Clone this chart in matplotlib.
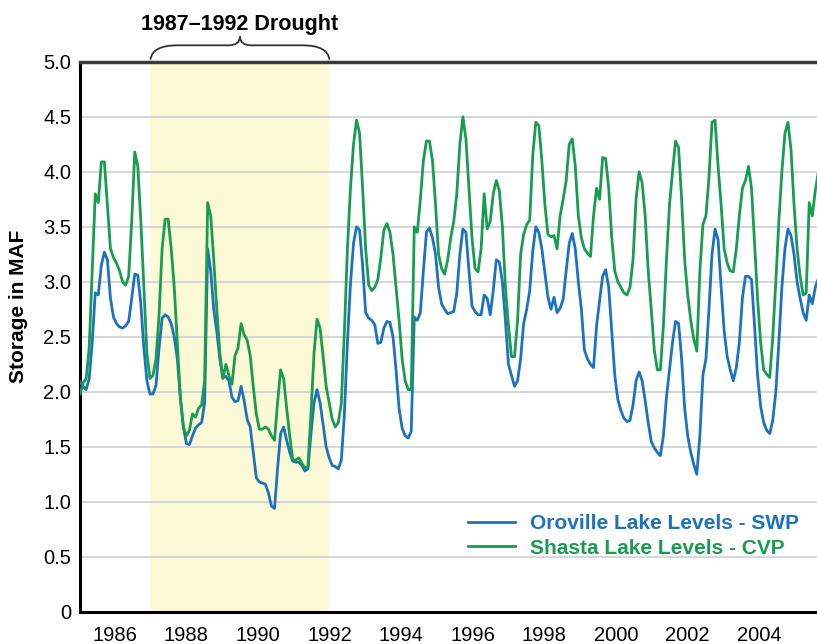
import matplotlib
matplotlib.use("Agg")
import matplotlib.pyplot as plt
from matplotlib.path import Path
from matplotlib.patches import PathPatch
import numpy as np

plt.rcParams['font.family'] = ['Liberation Sans', 'DejaVu Sans']

# Storage (MAF), sampled about every 31 days, starting early 1985
start_year = 1985.034
step_years = 31 / 365.25
oroville = [
    2.09, 2.05, 2.02, 2.12, 2.45, 2.9, 2.88, 3.15, 3.27, 3.2, 2.85, 2.68, 2.62, 2.59, 2.58, 2.6, 2.64, 2.85, 3.07, 3.06,
    2.8, 2.4, 2.1, 1.98, 1.98, 2.06, 2.4, 2.67, 2.7, 2.68, 2.62, 2.5, 2.3, 1.95, 1.68, 1.53, 1.52, 1.6, 1.67, 1.7,
    1.72, 1.9,
    3.3, 3.1, 2.75, 2.55, 2.3, 2.13, 2.14, 2.1, 1.95, 1.91, 1.92, 2.05, 1.92, 1.75, 1.68, 1.45, 1.22, 1.18, 1.17, 1.16,
    1.08, 0.96, 0.94, 1.3, 1.62, 1.68, 1.56, 1.45, 1.37, 1.36, 1.36, 1.33, 1.28, 1.3, 1.62, 1.9, 2.02, 1.9, 1.7, 1.5,
    1.4, 1.33,
    1.32, 1.3, 1.38, 1.8, 2.45, 2.98, 3.35, 3.5, 3.47, 3.15, 2.72, 2.67, 2.65, 2.61, 2.44, 2.45, 2.58, 2.64, 2.63, 2.5,
    2.2, 1.85, 1.67, 1.6, 1.58, 1.64, 2.68, 2.65, 2.72, 3.1, 3.45, 3.49, 3.4, 3.25, 2.95, 2.8, 2.75, 2.71, 2.72, 2.73,
    2.9,
    3.25, 3.48, 3.45, 3.1, 2.78, 2.73, 2.7, 2.7, 2.88, 2.85, 2.7, 2.92, 3.2, 3.18, 3.0, 2.65, 2.25, 2.15, 2.05, 2.1,
    2.3, 2.62, 2.75, 2.92, 3.28, 3.5, 3.45, 3.3, 3.08, 2.86, 2.75, 2.86, 2.72, 2.76, 2.84, 3.1, 3.35, 3.44, 3.3, 3.0,
    2.75,
    2.38, 2.3, 2.25, 2.22, 2.6, 2.83, 3.05, 3.11, 2.95, 2.55, 2.15, 1.93, 1.83, 1.76, 1.73, 1.74, 1.88, 2.1, 2.18, 2.1,
    1.92, 1.72, 1.55, 1.49, 1.45, 1.42, 1.6, 1.95, 2.2, 2.45, 2.64, 2.62, 2.3, 1.85, 1.6, 1.45, 1.34, 1.25, 1.6,
    2.15, 2.3, 2.75, 3.25, 3.48, 3.38, 2.95, 2.55, 2.32, 2.2, 2.1, 2.22, 2.45, 2.85, 3.05, 3.05, 3.02, 2.6, 2.15, 1.87,
    1.72, 1.65, 1.62, 1.74, 2.0, 2.45, 2.95, 3.3, 3.48, 3.42, 3.25, 3.0, 2.85, 2.72, 2.65, 2.88, 2.8, 2.95, 3.03,
]
shasta = [
    1.98, 2.08, 2.12, 2.4, 3.1, 3.8, 3.72, 4.09, 4.09, 3.7, 3.3, 3.22, 3.17, 3.1, 3.0, 2.97, 3.05, 3.55, 4.18, 4.05,
    3.55, 2.95, 2.35, 2.12, 2.15, 2.3, 2.7, 3.3, 3.57, 3.57, 3.3, 2.95, 2.45, 1.95, 1.68, 1.6, 1.65, 1.8, 1.77, 1.85,
    1.88, 2.1,
    3.72, 3.6, 3.2, 2.75, 2.35, 2.12, 2.25, 2.15, 2.07, 2.33, 2.4, 2.62, 2.52, 2.47, 2.33, 2.05, 1.8, 1.66, 1.66, 1.68,
    1.66, 1.6, 1.56, 1.9, 2.2, 2.12, 1.85, 1.6, 1.38, 1.38, 1.4, 1.35, 1.31, 1.32, 1.8, 2.35, 2.66, 2.58, 2.32, 2.05,
    1.9, 1.75,
    1.68, 1.72, 1.9, 2.55, 3.3, 3.85, 4.25, 4.47, 4.35, 3.85, 3.3, 2.97, 2.92, 2.95, 3.02, 3.22, 3.47, 3.53, 3.45, 3.25,
    2.95, 2.65, 2.3, 2.1, 2.02, 2.02, 3.5, 3.45, 3.75, 4.1, 4.28, 4.28, 4.1, 3.7, 3.25, 3.12, 3.07, 3.2, 3.4, 3.55,
    3.8,
    4.25, 4.5, 4.3, 3.85, 3.4, 3.12, 3.09, 3.3, 3.8, 3.48, 3.55, 3.8, 3.92, 3.83, 3.5, 2.95, 2.6, 2.32, 2.32, 2.65,
    3.25, 3.43, 3.52, 3.56, 4.15, 4.45, 4.42, 4.1, 3.7, 3.43, 3.41, 3.42, 3.3, 3.6, 3.75, 3.92, 4.25, 4.3, 4.05, 3.6,
    3.4,
    3.3, 3.26, 3.23, 3.6, 3.85, 3.75, 4.13, 4.12, 3.85, 3.4, 3.1, 3.0, 2.95, 2.9, 2.88, 2.95, 3.2, 3.75, 4.0, 3.9,
    3.6, 3.1, 2.75, 2.38, 2.2, 2.2, 2.6, 3.2, 3.7, 4.0, 4.28, 4.22, 3.75, 3.2, 2.88, 2.65, 2.48, 2.37, 3.1,
    3.52, 3.6, 3.95, 4.45, 4.47, 4.05, 3.7, 3.3, 3.17, 3.1, 3.09, 3.3, 3.6, 3.85, 3.92, 4.05, 3.85, 3.35, 2.85, 2.45,
    2.2, 2.16, 2.13, 2.5, 3.0, 3.55, 4.0, 4.35, 4.45, 4.2, 3.7, 3.3, 3.05, 2.88, 2.9, 3.72, 3.6, 3.83, 4.0,
]
tick_years = [1986, 1988, 1990, 1992, 1994, 1996, 1998, 2000, 2002, 2004]
y_ticks = [0, 0.5, 1.0, 1.5, 2.0, 2.5, 3.0, 3.5, 4.0, 4.5, 5.0]
y_tick_labels = ["0", "0.5", "1.0", "1.5", "2.0", "2.5", "3.0", "3.5", "4.0", "4.5", "5.0"]
drought_span = (1987.0, 1992.0)
drought_label = "1987\u20131992 Drought"
series_labels = ["Oroville Lake Levels - SWP", "Shasta Lake Levels - CVP"]

t = start_year + np.arange(len(oroville)) * step_years
t2 = start_year + np.arange(len(shasta)) * step_years

fig = plt.figure(figsize=(8.17, 6.44), dpi=100)
ax = fig.add_axes([0.098, 0.050, 0.902, 0.854])

blue = '#1c72be'
green = '#189c50'

ax.axvspan(drought_span[0], drought_span[1], color='#fcf9d6', zorder=0, lw=0)
for yv in y_ticks[1:-1]:
    ax.axhline(yv, color='#d6d6d6', lw=1.4, zorder=1)

ax.plot(t, oroville, color=blue, lw=2.0, zorder=3, label=series_labels[0], solid_joinstyle='round')
ax.plot(t2, shasta, color=green, lw=2.0, zorder=3, label=series_labels[1], solid_joinstyle='round')

ax.set_xlim(start_year, start_year + 737 / 35.8)
ax.set_ylim(0, 5.0)
ax.set_xticks(tick_years)
ax.set_xticklabels([str(y) for y in tick_years], fontsize=14.5)
ax.set_yticks(y_ticks)
ax.set_yticklabels(y_tick_labels, fontsize=14.5)
ax.tick_params(axis='both', length=0)
ax.tick_params(axis='x', pad=10)
ax.tick_params(axis='y', pad=6.5)

for s in ['left', 'bottom']:
    ax.spines[s].set_linewidth(2.2)
    ax.spines[s].set_color('black')
ax.spines['top'].set_linewidth(2.5)
ax.spines['top'].set_color('#3a3a3a')
ax.spines['right'].set_visible(False)

fig.text(19 / 817, 1 - 306 / 644, "Storage in MAF", rotation=90, ha='center', va='center',
         fontsize=15, fontweight='bold')

# Curly brace above the drought span
x0, x1 = drought_span
xm = (x0 + x1) / 2
yb, yf, yt = 5.02, 5.15, 5.23
dx_end, dx_tip = 0.75, 0.32
verts = [(x0, yb), (x0 + 0.05, yf), (x0 + dx_end, yf), (xm - dx_tip, yf), (xm, yf), (xm, yt),
         (xm, yt), (xm, yf), (xm + dx_tip, yf), (x1 - dx_end, yf), (x1 - 0.05, yf), (x1, yb)]
codes = [Path.MOVETO, Path.CURVE3, Path.CURVE3, Path.LINETO, Path.CURVE3, Path.CURVE3,
         Path.MOVETO, Path.CURVE3, Path.CURVE3, Path.LINETO, Path.CURVE3, Path.CURVE3]
brace = PathPatch(Path(verts, codes), facecolor='none', edgecolor='#333333', lw=1.3, clip_on=False)
ax.add_patch(brace)
ax.text(xm, 5.335, drought_label, ha='center', va='center', fontsize=15.5, fontweight='bold')

leg = ax.legend(loc='center left', bbox_to_anchor=(0.501, 0.138), frameon=False,
                handlelength=2.25, handletextpad=0.72, labelspacing=0.25,
                prop={'weight': 'bold', 'size': 15}, labelcolor='linecolor')

fig.savefig('out.png', dpi=100)
